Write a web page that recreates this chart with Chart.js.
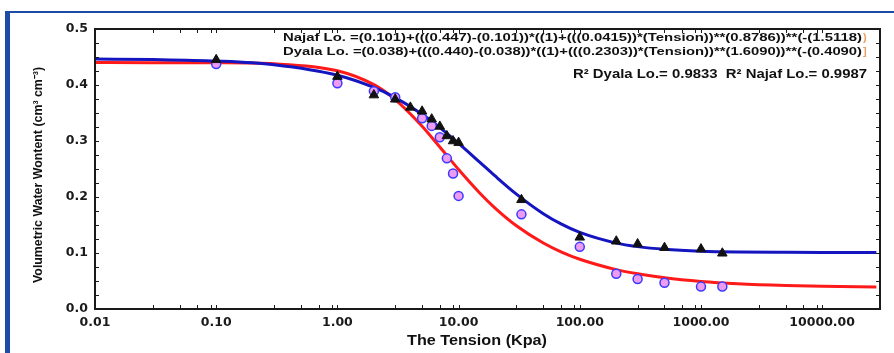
<!DOCTYPE html>
<html>
<head>
<meta charset="utf-8">
<script src="https://cdn.jsdelivr.net/npm/chart.js@4.4.1/dist/chart.umd.min.js"></script>
<style>
  html, body { margin: 0; padding: 0; background: #fff; }
  #wrap { width: 894px; height: 353px; }
</style>
</head>
<body>
<div id="wrap"><canvas id="chart" width="894" height="353"></canvas></div>
<script>
// measured points (tension in kPa, volumetric water content)
const najafTension = [0.1, 1, 2, 3, 4, 5, 6, 7, 8, 9, 10, 33, 100, 200, 300, 500, 1000, 1500];
const najafTheta = [0.445, 0.415, 0.382, 0.3745, 0.36, 0.353, 0.339, 0.326, 0.309, 0.300, 0.297, 0.195, 0.128, 0.121, 0.116, 0.1095, 0.107, 0.0995];

const dyalaTension = [0.1, 1, 2, 3, 5, 6, 7, 8, 9, 10, 33, 100, 200, 300, 500, 1000, 1500];
const dyalaTheta = [0.4375, 0.403, 0.389, 0.378, 0.3405, 0.327, 0.3066, 0.269, 0.242, 0.202, 0.169, 0.111, 0.063, 0.0536, 0.047, 0.040, 0.040];

// fitted curves
const curveTension = [0.01, 0.03, 0.1, 0.3, 1, 2, 3, 5, 7, 10, 15, 20, 30, 50, 70, 100, 200, 300, 500, 1000, 2000, 5000, 10000, 28000];
const najafFit = [0.4464, 0.4455, 0.4428, 0.4362, 0.4174, 0.3956, 0.3774, 0.3476, 0.3239, 0.2959, 0.2619, 0.2376, 0.2052, 0.1702, 0.1519, 0.1367, 0.1177, 0.1114, 0.1066, 0.1033, 0.1019, 0.1013, 0.1011, 0.1010];
const dyalaFit = [0.4400, 0.4399, 0.4396, 0.4378, 0.4255, 0.4006, 0.3739, 0.3263, 0.2892, 0.2491, 0.2068, 0.1803, 0.1487, 0.1179, 0.1022, 0.0889, 0.0703, 0.0628, 0.0557, 0.0492, 0.0451, 0.0419, 0.0405, 0.0393];

const xDecades = [0.01, 0.1, 1, 10, 100, 1000, 10000];
const xMinorSteps = [3, 5, 7, 9];

const najafLabel = 'Najaf Lo. =(0.101)+(((0.447)-(0.101))*((1)+(((0.0415))*(Tension))**(0.8786))**(-(1.5118)';
const dyalaLabel = 'Dyala Lo. =(0.038)+(((0.440)-(0.038))*((1)+(((0.2303))*(Tension))**(1.6090))**(-(0.4090)';
const r2Label = 'R\u00b2 Dyala Lo.= 0.9833  R\u00b2 Najaf Lo.= 0.9987';
const xTitle = 'The Tension (Kpa)';
const yTitle = 'Volumetric Water Wontent (cm\u00b3 cm\u207b\u00b3)';

const pts = (xs, ys) => xs.map((x, i) => ({ x: x, y: ys[i] }));

function fitText(ctx, text, x, y, width, font, color) {
  ctx.save();
  ctx.font = font;
  const w = ctx.measureText(text).width;
  ctx.translate(x, y);
  ctx.scale(width / w, 1);
  ctx.fillStyle = color;
  ctx.textBaseline = 'middle';
  ctx.textAlign = 'left';
  ctx.fillText(text, 0, 0);
  ctx.restore();
}

const frame = {
  id: 'frame',
  beforeDraw(chart) {
    const ctx = chart.ctx;
    ctx.save();
    ctx.fillStyle = '#fff';
    ctx.fillRect(0, 0, chart.width, chart.height);
    ctx.fillStyle = '#1d4ba5';
    ctx.fillRect(5, 11, 5, chart.height - 11);
    ctx.fillRect(5, 11, chart.width - 5, 2);
    ctx.restore();
  },
  afterDraw(chart) {
    const ctx = chart.ctx;
    const a = chart.chartArea;
    const xs = chart.scales.x, ys = chart.scales.y;
    const L = Math.round(a.left), R = Math.round(a.right), T = Math.round(a.top), B = Math.round(a.bottom);
    ctx.save();
    ctx.fillStyle = '#1a1a1a';
    ctx.fillRect(L - 1, T - 1, R - L + 2, 2);
    ctx.fillRect(L - 1, B - 1, R - L + 2, 2);
    ctx.fillRect(L - 1, T - 1, 2, B - T + 2);
    ctx.fillRect(R - 1, T - 1, 2, B - T + 2);
    for (let v = 0; v <= 0.5001; v += 0.025) {
      const py = Math.round(ys.getPixelForValue(v));
      ctx.fillRect(L, py, 4, 1);
      ctx.fillRect(R - 4, py, 4, 1);
    }
    xDecades.forEach(d => {
      [1].concat(xMinorSteps).forEach(s => {
        const v = d * s;
        if (v > xs.max) return;
        const px = Math.round(xs.getPixelForValue(v));
        ctx.fillRect(px, B - 4, 1, 4);
        ctx.fillRect(px, T, 1, 4);
      });
    });
    ctx.restore();

    fitText(ctx, najafLabel, 283, 38, 579, 'bold 11.5px "Liberation Sans", Arial', '#111');
    fitText(ctx, dyalaLabel, 283, 52, 579, 'bold 11.5px "Liberation Sans", Arial', '#111');
    ctx.save();
    ctx.font = 'bold 11px "Liberation Sans", Arial';
    ctx.fillStyle = '#e8a060';
    ctx.textBaseline = 'middle';
    ctx.fillText(')', 863, 38);
    ctx.fillText(']', 863, 52);
    ctx.restore();
    fitText(ctx, r2Label, 573, 74, 294, 'bold 13.5px "Liberation Sans", Arial', '#111');
    fitText(ctx, xTitle, 477 - 70, 341, 140, 'bold 14px "Liberation Sans", Arial', '#111');
    ctx.save();
    ctx.translate(39, 175);
    ctx.rotate(-Math.PI / 2);
    ctx.font = 'bold 12.5px "Liberation Sans", Arial';
    const tw = ctx.measureText(yTitle).width;
    ctx.scale(216 / tw, 1);
    ctx.fillStyle = '#111';
    ctx.textAlign = 'center';
    ctx.textBaseline = 'middle';
    ctx.fillText(yTitle, 0, 0);
    ctx.restore();
  }
};

const tickFont = { family: 'DejaVu Sans', weight: 'bold', size: 12.5 };

new Chart(document.getElementById('chart'), {
  type: 'scatter',
  data: {
    datasets: [
      {
        label: 'Dyala fit',
        data: pts(curveTension, dyalaFit),
        showLine: true,
        borderColor: '#ff1a1a',
        borderWidth: 3,
        pointRadius: 0,
        cubicInterpolationMode: 'monotone',
        order: 3
      },
      {
        label: 'Najaf fit',
        data: pts(curveTension, najafFit),
        showLine: true,
        borderColor: '#1414c0',
        borderWidth: 3,
        pointRadius: 0,
        cubicInterpolationMode: 'monotone',
        order: 2
      },
      {
        label: 'Dyala Lo.',
        data: pts(dyalaTension, dyalaTheta),
        pointStyle: 'circle',
        pointRadius: 4.5,
        backgroundColor: '#ee9cf2',
        borderColor: '#3a3aff',
        borderWidth: 1.5,
        order: 1
      },
      {
        label: 'Najaf Lo.',
        data: pts(najafTension, najafTheta),
        pointStyle: 'triangle',
        pointRadius: 5.5,
        backgroundColor: '#111',
        borderColor: '#111',
        borderWidth: 1,
        order: 0
      }
    ]
  },
  options: {
    responsive: false,
    animation: false,
    layout: { padding: { top: 29, right: 14, left: 0, bottom: 0 } },
    plugins: { legend: { display: false }, tooltip: { enabled: false } },
    scales: {
      x: {
        type: 'logarithmic',
        min: 0.01,
        max: 30000,
        grid: { display: false, drawTicks: false },
        border: { display: false },
        afterFit(scale) { scale.height = 44; },
        ticks: {
          autoSkip: false,
          maxRotation: 0,
          padding: 6,
          color: '#1a1a1a',
          font: tickFont,
          callback(value) {
            const e = Math.log10(value);
            return Math.abs(e - Math.round(e)) < 1e-9 && value <= 10000 ? value.toFixed(2) : '';
          }
        }
      },
      y: {
        min: 0,
        max: 0.5,
        grid: { display: false, drawTicks: false },
        border: { display: false },
        afterFit(scale) { scale.width = 95; },
        ticks: {
          stepSize: 0.1,
          padding: 7,
          color: '#1a1a1a',
          font: tickFont,
          callback(value) { return value.toFixed(1); }
        }
      }
    }
  },
  plugins: [frame]
});
</script>
</body>
</html>
